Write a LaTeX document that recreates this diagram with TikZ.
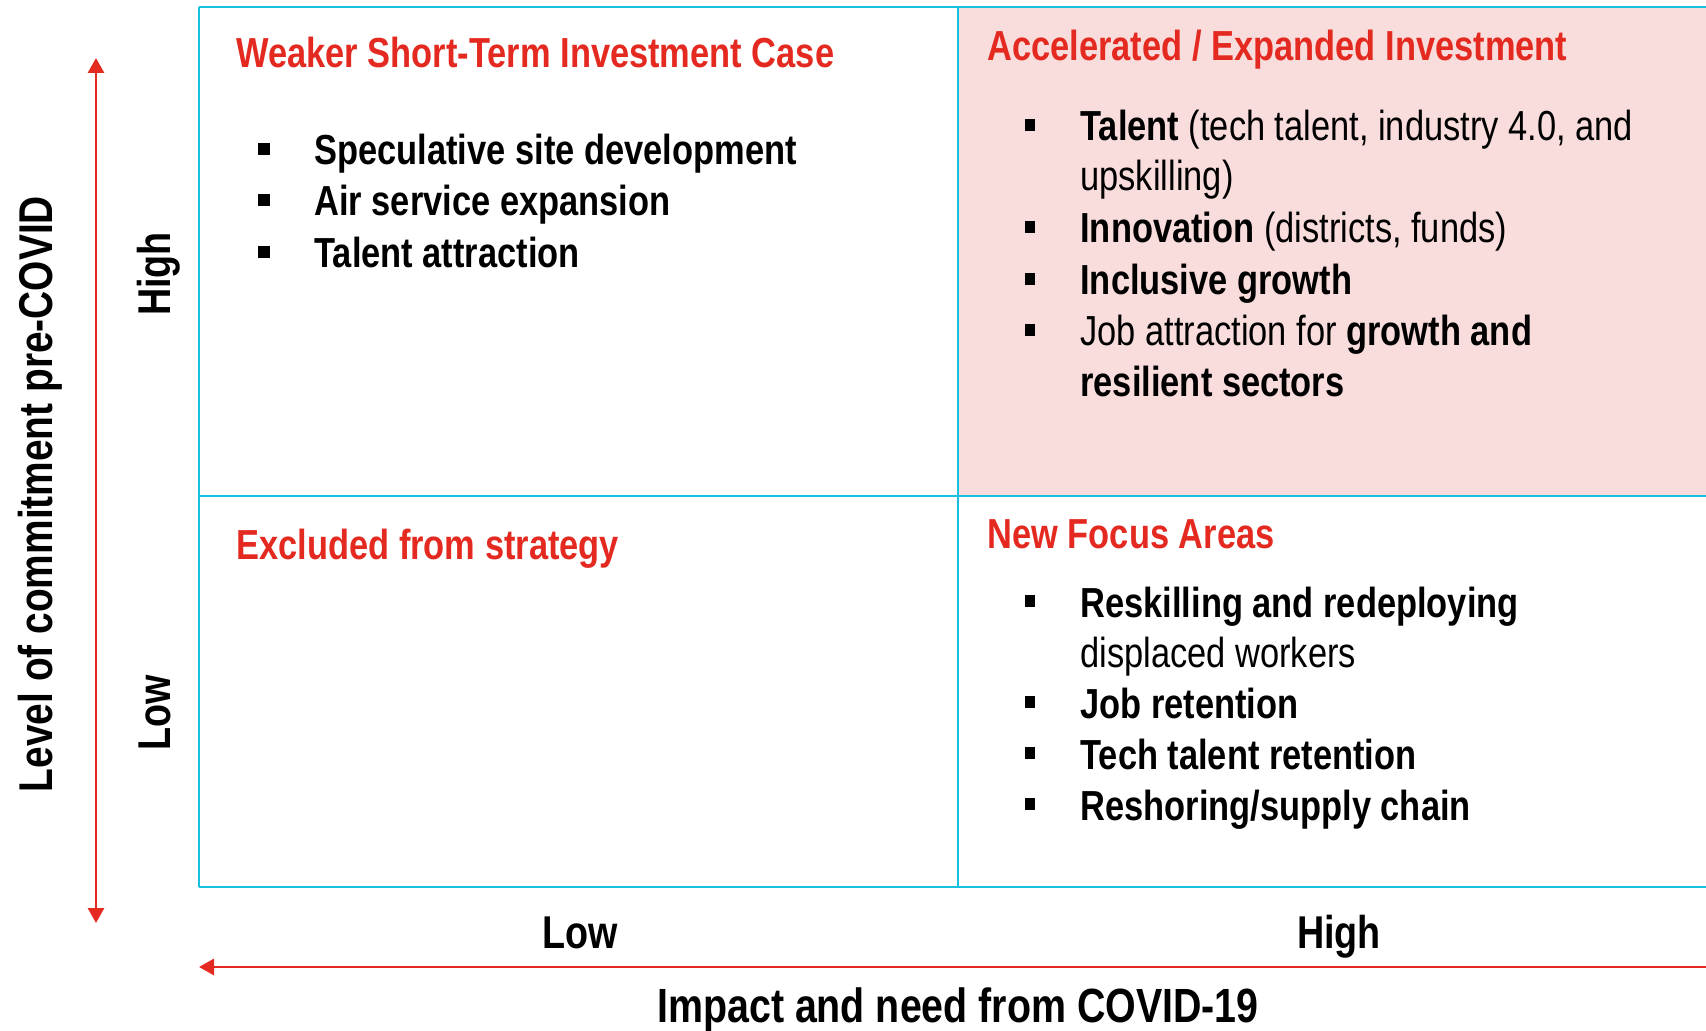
\documentclass[tikz,border=0pt]{standalone}
\usepackage{fontspec}
\setmainfont[FakeStretch=0.82]{Liberation Sans}
\usetikzlibrary{arrows.meta,positioning}

\definecolor{matred}{HTML}{E42A20}
\definecolor{matcyan}{HTML}{17C0DF}
\definecolor{matpink}{HTML}{F9DCDC}
\tikzset{
  head/.style={font=\fontsize{21}{25}\selectfont\bfseries,text=matred,inner sep=0,anchor=base west},
  item/.style={font=\fontsize{21}{25}\selectfont,inner sep=0,anchor=base west},
  bitem/.style={item,font=\fontsize{21}{25}\selectfont\bfseries},
  axlab/.style={font=\fontsize{23}{27}\selectfont\bfseries,inner sep=0,anchor=base},
  bul/.style={fill=black,inner sep=0,minimum width=6pt,minimum height=6pt},
  cell/.style={draw=matcyan,line width=1.4pt},
  axis/.style={draw=matred,line width=1.4pt}
}

\begin{document}
\begin{tikzpicture}[x=0.5pt,y=-0.5pt,line join=round]
\useasboundingbox (0,0) rectangle (1706,1031);
% frame of the four quadrants
\coordinate (nw) at (199,7);
\coordinate (n) at (958,7);
\coordinate (ne) at (1712,7);
\coordinate (w) at (199,496);
\coordinate (c) at (958,496);
\coordinate (e) at (1712,496);
\coordinate (sw) at (199,887);
\coordinate (s) at (958,887);
\coordinate (se) at (1712,887);
\fill[matpink] (n) rectangle (e);
\draw[cell] (nw)--(ne) (w)--(e) (sw)--(se) (nw)--(sw) (n)--(s);

% axes
\coordinate (vtop) at (96,58);
\coordinate (vbot) at (96,923);
\coordinate (hleft) at (199,967);
\coordinate (hright) at (1712,967);
\draw[axis,{Triangle[width=8pt,length=7.5pt]}-{Triangle[width=8pt,length=7.5pt]}] (vbot)--(vtop);
\draw[axis,{Triangle[width=8pt,length=7.5pt]}-] (hleft)--(hright);

\node[axlab,rotate=90,font=\fontsize{23.7}{28}\selectfont\bfseries] (ytitle) at (52,494) {Level of commitment pre-COVID};
\node[axlab,rotate=90] (yhigh) at (170,274) {High};
\node[axlab,rotate=90] (ylow) at (170,713) {Low};
\node[axlab] (xlow) at (580,948) {Low};
\node[axlab] (xhigh) at (1339,948) {High};
\node[axlab,font=\fontsize{24}{28}\selectfont\bfseries] (xtitle) at (958,1022) {Impact and need from COVID-19};

% quadrant titles
\node[head] (tlhead) at (236,68) {Weaker Short-Term Investment Case};
\node[head] (trhead) at (987,61) {Accelerated / Expanded Investment};
\node[head] (blhead) at (236,559) {Excluded from strategy};
\node[head] (brhead) at (987,548) {New Focus Areas};

% top left
\foreach \y/\t [count=\i] in {165/Speculative site development,216/Air service expansion,268/Talent attraction}{
  \node[bul] at (264,\y-16) {};
  \node[bitem] (tl\i) at (314,\y) {\t};
}

% top right
\foreach \y in {141,243,295,346}{\node[bul,minimum width=5pt] at (1030,\y-16) {};}
\node[item] (tr1) at (1080,141) {\textbf{Talent} (tech talent, industry 4.0, and};
\node[item] (tr1b) at (1080,191) {upskilling)};
\node[item] (tr2) at (1080,243) {\textbf{Innovation} (districts, funds)};
\node[bitem] (tr3) at (1080,295) {Inclusive growth};
\node[item] (tr4) at (1080,346) {Job attraction for \textbf{growth and}};
\node[bitem] (tr4b) at (1080,397) {resilient sectors};

% bottom right
\foreach \y in {617,718,769,820}{\node[bul,minimum width=5pt] at (1030,\y-16) {};}
\node[bitem] (br1) at (1080,617) {Reskilling and redeploying};
\node[item] (br1b) at (1080,667) {displaced workers};
\node[bitem] (br2) at (1080,718) {Job retention};
\node[bitem] (br3) at (1080,769) {Tech talent retention};
\node[bitem] (br4) at (1080,820) {Reshoring/supply chain};
\end{tikzpicture}
\end{document}
